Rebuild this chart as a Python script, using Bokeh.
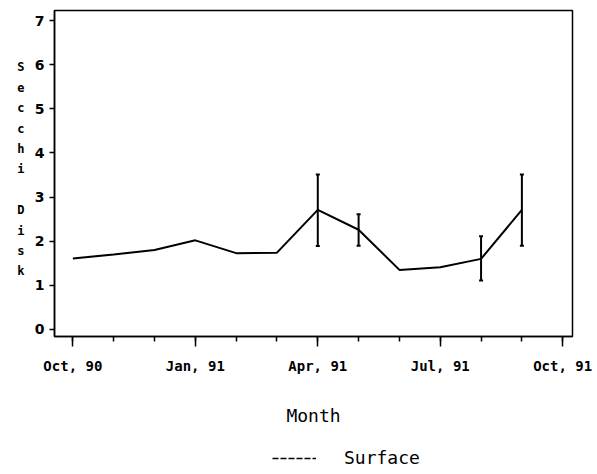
from bokeh.plotting import figure
from bokeh.layouts import column
from bokeh.models import (ColumnDataSource, FixedTicker, Range1d, Legend,
                          LegendItem, Whisker, TeeHead, LinearAxis)
from bokeh.embed import file_html
from bokeh.resources import INLINE

# ---- data ----
months = [0, 1, 2, 3, 4, 5, 6, 7, 8, 9, 10, 11]   # months since Oct 1990
secchi = [1.61, 1.70, 1.80, 2.02, 1.73, 1.74, 2.71, 2.26, 1.35, 1.41, 1.60, 2.71]
err_x = [6, 7, 10, 11]
err_low = [1.89, 1.90, 1.11, 1.90]
err_high = [3.51, 2.61, 2.11, 3.51]
tick_pos = [0, 3, 6, 9, 12]
tick_labels = ["Oct, 90", "Jan, 91", "Apr, 91", "Jul, 91", "Oct, 91"]
minor_pos = list(range(0, 13))
y_ticks = [0, 1, 2, 3, 4, 5, 6, 7]
y_title = "Secchi Disk"
x_title = "Month"
series_name = "Surface"

FONT = "DejaVu Sans Mono"
Y0, Y1 = -0.16, 7.23
FRAME_TOP, FRAME_H = 10, 326

p = figure(frame_width=518, frame_height=FRAME_H,
           min_border_left=54, min_border_right=24,
           min_border_top=FRAME_TOP, min_border_bottom=104,
           output_backend="svg", toolbar_location=None,
           x_range=Range1d(-0.45, 12.24), y_range=Range1d(Y0, Y1))

p.xgrid.visible = False
p.ygrid.visible = False
p.background_fill_color = "white"
p.border_fill_color = "white"
p.outline_line_color = "black"
p.outline_line_width = 1.5

src = ColumnDataSource(dict(x=months, y=secchi))
main = p.line("x", "y", source=src, line_color="black", line_width=2)

esrc = ColumnDataSource(dict(x=err_x, lo=err_low, hi=err_high))
wh = Whisker(base="x", lower="lo", upper="hi", source=esrc,
             line_color="black", line_width=2,
             upper_head=TeeHead(size=4, line_color="black", line_width=2),
             lower_head=TeeHead(size=4, line_color="black", line_width=2))
p.add_layout(wh)

# x axis
xa = p.xaxis[0]
xa.ticker = FixedTicker(ticks=tick_pos, minor_ticks=minor_pos)
xa.major_label_overrides = {t: l for t, l in zip(tick_pos, tick_labels)}
xa.major_tick_out = 10
xa.major_tick_in = 0
xa.minor_tick_out = 5
xa.minor_tick_in = 0
xa.axis_line_width = 1.5
xa.major_tick_line_width = 1.5
xa.minor_tick_line_width = 1.5
xa.major_label_text_font = FONT
xa.major_label_text_font_size = "14px"
xa.major_label_text_font_style = "bold"
xa.major_label_text_color = "black"
xa.major_label_standoff = 11
xa.axis_label = x_title
xa.axis_label_text_font = FONT
xa.axis_label_text_font_size = "18px"
xa.axis_label_text_font_style = "normal"
xa.axis_label_text_color = "black"
xa.axis_label_standoff = 28

# y axis
ya = p.yaxis[0]
ya.ticker = FixedTicker(ticks=y_ticks, minor_ticks=[])
ya.major_tick_out = 5
ya.major_tick_in = 0
ya.minor_tick_out = 0
ya.axis_line_width = 1.5
ya.major_tick_line_width = 1.5
ya.major_label_text_font = "DejaVu Sans"
ya.major_label_text_font_size = "14px"
ya.major_label_text_font_style = "bold"
ya.major_label_text_color = "black"
ya.major_label_standoff = 5

# stacked (upright, one letter per line) y title, drawn as a tick-label-only axis
chars = list(y_title)
n = len(chars)
py_top, py_bot = 67, 271           # pixel rows of first and last letter
letter_ticks, letter_map = [], {}
for i, ch in enumerate(chars):
    if ch == " ":
        continue
    py = py_top + i * (py_bot - py_top) / (n - 1)
    yv = round(Y1 - (py - FRAME_TOP) / FRAME_H * (Y1 - Y0), 4)
    letter_ticks.append(yv)
    letter_map[yv] = ch
ta = LinearAxis(ticker=FixedTicker(ticks=letter_ticks, minor_ticks=[]),
                major_label_overrides=letter_map,
                axis_line_color=None, major_tick_line_color=None,
                minor_tick_line_color=None, major_tick_out=0, major_tick_in=0,
                major_label_standoff=7,
                major_label_text_font=FONT, major_label_text_font_size="12px",
                major_label_text_font_style="bold",
                major_label_text_color="black")
p.add_layout(ta, "left")

# legend strip: a small companion figure (no axes) under the chart
q = figure(width=596, height=33, min_border=0,
           x_axis_location=None, y_axis_location=None,
           output_backend="svg", toolbar_location=None,
           x_range=Range1d(0, 1), y_range=Range1d(0, 1))
q.xgrid.visible = False
q.ygrid.visible = False
q.outline_line_color = None
q.background_fill_color = "white"
q.border_fill_color = "white"
# sample renderer kept outside the visible range; only its legend swatch shows
sample = q.line([-2, -1], [-2, -1], line_color="black", line_width=1.5,
                line_dash="6 2")
leg = Legend(items=[LegendItem(label=series_name, renderers=[sample])],
             location=(218, 5), orientation="horizontal",
             glyph_width=44, glyph_height=16, label_standoff=28,
             padding=0, margin=0, spacing=0,
             border_line_color=None, background_fill_alpha=0,
             label_text_font=FONT, label_text_font_size="18px",
             label_text_color="black", label_height=16)
q.add_layout(leg)

layout = column(p, q, spacing=0)
open("out.html", "w").write(file_html(layout, INLINE))
